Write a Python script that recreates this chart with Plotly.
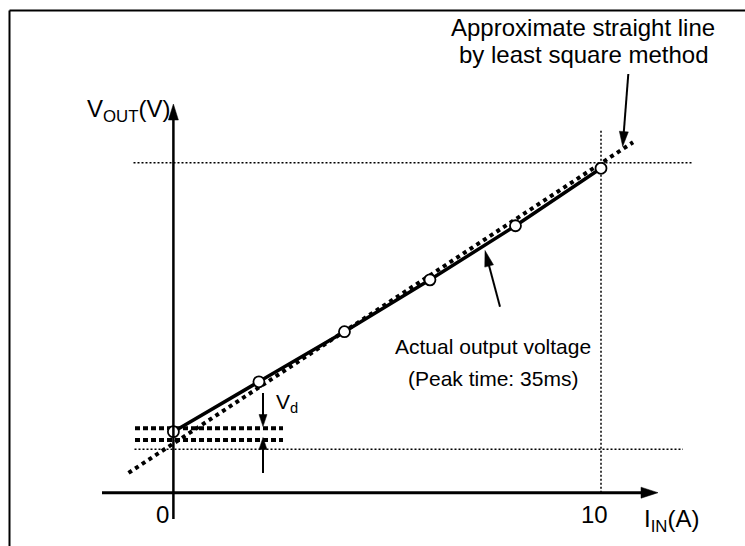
import math
import plotly.graph_objects as go

# ---------------- data ----------------
current_a = [0, 2, 4, 6, 8, 10]                 # I_IN (A) of the measured points
vout_v = [1.85, 3.36, 4.88, 6.45, 8.09, 9.83]  # actual V_OUT at those points

fit_current_a = [-1.05, 10.75]                  # extent of the least-square straight line
fit_vout_v = [0.60, 10.62]

vout_zero_actual = 1.95     # upper thick dashed level (actual output at 0 A)
vout_zero_fit = 1.60        # lower thick dashed level (fitted line at 0 A)
vout_ref_low = 1.315        # lower thin dotted reference level
vout_ref_high = 10.0        # upper thin dotted reference level
full_scale_a = 10           # vertical thin dotted line

x_tick_values = [0, 10]
x_tick_labels = ["0", "10"]

# ---------------- layout helpers (pixel <-> data mapping) ----------------
W, H = 745, 546
X0_PX, PX_PER_A = 173.4, 42.76
Y0_PX, PX_PER_V = 492.7, 33.0


def dx(px):
    return (px - X0_PX) / PX_PER_A


def dy(py):
    return (Y0_PX - py) / PX_PER_V


FONT = "Liberation Sans, Arial, sans-serif"
BLACK = "#000000"

fig = go.Figure()

# thin dotted reference lines
thin = dict(color=BLACK, width=1.5, dash="2px,2px")
fig.add_trace(go.Scatter(x=[dx(133.5), dx(691.5)], y=[vout_ref_high] * 2, mode="lines", line=thin))
fig.add_trace(go.Scatter(x=[dx(134.5), dx(683)], y=[vout_ref_low] * 2, mode="lines", line=thin))
fig.add_trace(go.Scatter(x=[full_scale_a] * 2, y=[0, dy(130.6)], mode="lines", line=thin))

# thick dashed levels at 0 A
thick = dict(color=BLACK, width=4, dash="5px,3px")
fig.add_trace(go.Scatter(x=[dx(135), dx(283)], y=[vout_zero_actual] * 2, mode="lines", line=thick))
fig.add_trace(go.Scatter(x=[dx(135), dx(283)], y=[vout_zero_fit] * 2, mode="lines", line=thick))

# least-square straight line (dotted)
fig.add_trace(go.Scatter(x=fit_current_a, y=fit_vout_v, mode="lines",
                         line=dict(color=BLACK, width=4, dash="4px,4px")))

# actual output voltage
fig.add_trace(go.Scatter(x=current_a, y=vout_v, mode="lines+markers",
                         line=dict(color=BLACK, width=3.5),
                         marker=dict(symbol="circle", size=11, color="white",
                                     line=dict(color=BLACK, width=1.8))))


def arrow(p0, p1, width, head_len, head_w):
    """Arrow from pixel point p0 (tail) to p1 (tip); drawn in data coords."""
    (x0, y0), (x1, y1) = p0, p1
    L = math.hypot(x1 - x0, y1 - y0)
    ux, uy = (x1 - x0) / L, (y1 - y0) / L
    bx, by = x1 - ux * head_len, y1 - uy * head_len
    sx, sy = x1 - ux * head_len * 0.6, y1 - uy * head_len * 0.6
    fig.add_trace(go.Scatter(x=[dx(x0), dx(sx)], y=[dy(y0), dy(sy)], mode="lines",
                             line=dict(color=BLACK, width=width)))
    nx, ny = -uy, ux
    pts = [(x1, y1),
           (bx + nx * head_w / 2, by + ny * head_w / 2),
           (bx - nx * head_w / 2, by - ny * head_w / 2)]
    path = "M " + " L ".join(f"{dx(px):.5f},{dy(py):.5f}" for px, py in pts) + " Z"
    fig.add_shape(type="path", xref="x", yref="y", path=path,
                  fillcolor=BLACK, line=dict(color=BLACK, width=0.5), layer="above")


# axes drawn as arrows
arrow((173.4, 519), (173.4, 104), 2.5, 16, 10)        # V_OUT axis
arrow((102, 492.7), (658, 492.7), 3, 17, 11)          # I_IN axis

# pointer arrows
arrow((628.3, 74), (622.7, 146.5), 2, 15, 9)          # to least-square line
arrow((500, 306.7), (485, 250.5), 2, 16, 9)           # to actual output
arrow((263, 393), (263, 426.5), 2, 12, 8)             # V_d down
arrow((263, 473), (263, 437.5), 2, 12, 8)             # V_d up

# frame (left and top edges)
fig.add_shape(type="line", xref="paper", yref="paper",
              x0=9.5 / W, x1=9.5 / W, y0=0, y1=1 - 10.5 / H,
              line=dict(color=BLACK, width=2))
fig.add_shape(type="line", xref="paper", yref="paper",
              x0=9.5 / W, x1=1, y0=1 - 10.5 / H, y1=1 - 10.5 / H,
              line=dict(color=BLACK, width=2))

annotations = []


def label(text, px, py, size, xanchor="center"):
    annotations.append(dict(x=dx(px), y=dy(py), xref="x", yref="y", text=text,
                            showarrow=False, xanchor=xanchor, yanchor="middle",
                            font=dict(family=FONT, size=size, color=BLACK)))


# tick labels
tick_px = {0: 162.5, 10: 594}
for v, t in zip(x_tick_values, x_tick_labels):
    label(t, tick_px[v], 514, 24)

label("V<sub>OUT</sub>(V)", 128, 110, 24)
label("I<sub>IN</sub>(A)", 671, 520, 24)
label("V<sub>d</sub>", 287, 403, 21)
label("Approximate straight line", 582.5, 27, 24)
label("by least square method", 583.5, 54, 24)
label("Actual output voltage", 493, 346, 21)
label("(Peak time: 35ms)", 493, 378, 21)

fig.update_layout(
    width=W, height=H,
    margin=dict(l=0, r=0, t=0, b=0),
    paper_bgcolor="white", plot_bgcolor="white",
    showlegend=False,
    hovermode=False,
    xaxis=dict(range=[dx(0), dx(W)], visible=False, fixedrange=True),
    yaxis=dict(range=[dy(H), dy(0)], visible=False, fixedrange=True),
    annotations=annotations,
)

fig.write_html("out.html",
               config={"displayModeBar": False, "staticPlot": True},
               post_script="document.body.style.margin='0px';"
                           "document.body.style.overflow='hidden';")
